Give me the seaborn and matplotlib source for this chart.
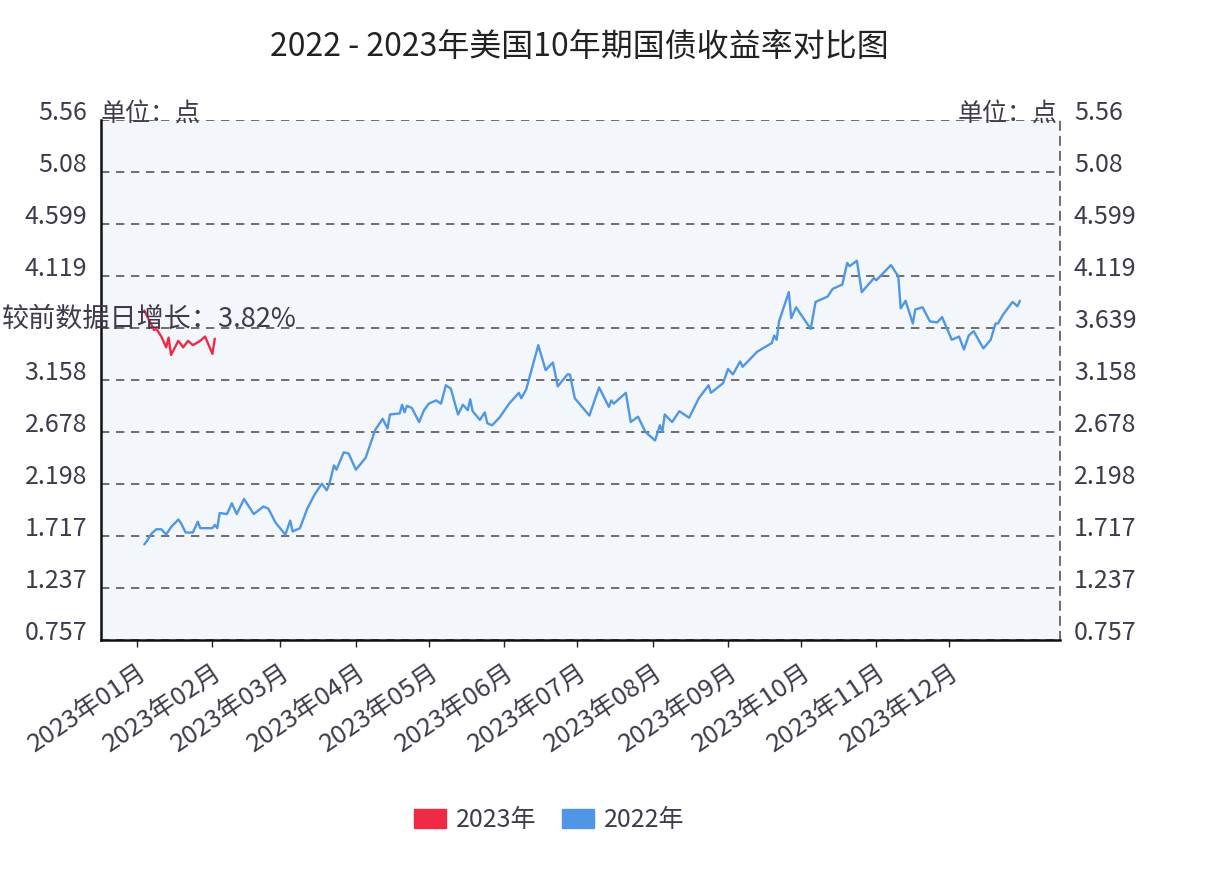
import matplotlib
matplotlib.use('Agg')
import matplotlib.pyplot as plt
import pandas as pd
import seaborn as sns
from matplotlib.patches import Patch

# day of year (0 = Jan 1) and yield
days_2022 = [3, 4, 6, 8, 10, 12, 14, 17, 18, 20,
             23, 25, 26, 31, 32, 33, 34, 37, 38, 39,
             41, 44, 48, 52, 54, 57, 61, 63, 64, 67,
             70, 73, 76, 78, 79, 81, 82, 85, 87, 90,
             94, 98, 101, 103, 104, 108, 109, 110, 111, 113,
             116, 118, 120, 123, 125, 127, 129, 132, 134, 136,
             137, 138, 141, 143, 144, 146, 149, 153, 157, 158,
             160, 165, 168, 171, 173, 177, 178, 180, 186, 190,
             194, 195, 196, 201, 203, 206, 209, 213, 215, 216,
             217, 220, 223, 227, 231, 235, 236, 241, 243, 245,
             248, 249, 255, 261, 262, 263, 264, 268, 269, 271,
             277, 279, 284, 286, 290, 292, 293, 296, 298, 303,
             304, 310, 312, 313, 314, 316, 319, 320, 323, 326,
             329, 331, 335, 338, 340, 342, 344, 348, 351, 353,
             354, 356, 360, 362, 363]
yield_2022 = [1.64, 1.67, 1.74, 1.78, 1.78, 1.73, 1.80, 1.87, 1.84, 1.75,
              1.75, 1.85, 1.79, 1.79, 1.82, 1.79, 1.93, 1.92, 1.97, 2.02,
              1.92, 2.06, 1.92, 1.99, 1.97, 1.84, 1.73, 1.86, 1.76, 1.79,
              1.97, 2.10, 2.20, 2.14, 2.19, 2.37, 2.33, 2.49, 2.48, 2.33,
              2.44, 2.70, 2.80, 2.71, 2.84, 2.85, 2.93, 2.86, 2.92, 2.90,
              2.77, 2.88, 2.94, 2.97, 2.94, 3.11, 3.08, 2.84, 2.93, 2.88,
              2.98, 2.87, 2.79, 2.86, 2.76, 2.74, 2.81, 2.94, 3.04, 2.99,
              3.07, 3.48, 3.25, 3.32, 3.10, 3.21, 3.21, 2.99, 2.83, 3.09,
              2.91, 2.97, 2.94, 3.04, 2.77, 2.82, 2.68, 2.60, 2.74, 2.68,
              2.84, 2.77, 2.87, 2.81, 2.99, 3.11, 3.04, 3.13, 3.26, 3.21,
              3.33, 3.28, 3.42, 3.50, 3.57, 3.53, 3.70, 3.97, 3.73, 3.83,
              3.63, 3.88, 3.93, 4.00, 4.04, 4.24, 4.21, 4.26, 3.97, 4.10,
              4.08, 4.22, 4.15, 4.12, 3.82, 3.89, 3.68, 3.81, 3.83, 3.70,
              3.69, 3.74, 3.53, 3.56, 3.44, 3.57, 3.61, 3.45, 3.53, 3.68,
              3.68, 3.76, 3.88, 3.84, 3.89]

days_2023 = [3, 5, 7, 8, 10, 12, 13, 14, 17, 19, 21, 23, 26, 28, 31, 32]
yield_2023 = [3.80, 3.71, 3.62, 3.63, 3.56, 3.46, 3.55, 3.39, 3.52, 3.46,
              3.52, 3.48, 3.52, 3.56, 3.40, 3.54]

month_starts = [0, 31, 59, 90, 120, 151, 181, 212, 243, 273, 304, 334]
month_labels = ['2023年%02d月' % m for m in range(1, 13)]
y_ticks = [0.757, 1.237, 1.717, 2.198, 2.678, 3.158, 3.639, 4.119, 4.599, 5.08, 5.56]
y_labels = ['0.757', '1.237', '1.717', '2.198', '2.678', '3.158', '3.639',
            '4.119', '4.599', '5.08', '5.56']
# on the left the 3.639 label sits under the annotation, so it is left blank there
y_labels_left = [l if l != '3.639' else '' for l in y_labels]

series_names = ['2023年', '2022年']
colors = {'2023年': '#ee2a44', '2022年': '#4f97e6'}

df = pd.concat([
    pd.DataFrame({'day': days_2022, 'yield': yield_2022, 'year': '2022年'}),
    pd.DataFrame({'day': days_2023, 'yield': yield_2023, 'year': '2023年'}),
])

sns.set_style('white')
plt.rcParams['font.family'] = ['Noto Sans CJK SC', 'DejaVu Sans']
txt = '#403a4c'

fig = plt.figure(figsize=(12.2, 8.72), dpi=100)
ax = fig.add_axes([101 / 1220, 1 - 640 / 872, 959 / 1220, 520 / 872])
ax.set_facecolor('#f3f7fc')

sns.lineplot(data=df, x='day', y='yield', hue='year', palette=colors,
             estimator=None, sort=False, linewidth=1.7, legend=False, ax=ax)

ax.set_xlim(-14.8, 379.5)
ax.set_ylim(0.757, 5.56)
ax.set_xlabel('')
ax.set_ylabel('')

ax.set_yticks(y_ticks)
ax.set_yticklabels(y_labels_left)
ax.grid(axis='y', color='#555555', linestyle=(0, (5, 4)), linewidth=1.2)
ax.grid(axis='x', visible=False)
ax.tick_params(axis='y', length=0, pad=10, labelsize=18, labelcolor=txt)

ax.set_xticks(month_starts)
ax.set_xticklabels(month_labels, rotation=34, ha='right', rotation_mode='anchor')
ax.tick_params(axis='x', length=5, width=1, color='#222222', pad=9,
               labelsize=18.5, labelcolor=txt, bottom=True)

for s in ['left', 'bottom']:
    ax.spines[s].set_color('#111111')
    ax.spines[s].set_linewidth(1.8)
ax.spines['top'].set_visible(False)
ax.spines['right'].set_color('#555555')
ax.spines['right'].set_linestyle((0, (5, 4)))
ax.spines['right'].set_linewidth(1.2)

ax2 = ax.twinx()
ax2.set_ylim(0.757, 5.56)
ax2.set_yticks(y_ticks)
ax2.set_yticklabels(y_labels)
ax2.tick_params(axis='y', length=0, pad=10, labelsize=18, labelcolor=txt)
for s in ax2.spines.values():
    s.set_visible(False)

for lbl in ax.get_yticklabels() + ax2.get_yticklabels():
    lbl.set_va('baseline')

fig.text(579 / 1220, 1 - 47 / 872, '2022 - 2023年美国10年期国债收益率对比图',
         ha='center', va='center', fontsize=23, color='#222222')

fig.text(101 / 1220, 1 - 121 / 872, '单位：点', ha='left', va='baseline',
         fontsize=18, color=txt)
fig.text(1058 / 1220, 1 - 121 / 872, '单位：点', ha='right', va='baseline',
         fontsize=18, color=txt)

fig.text(2 / 1220, 1 - 327 / 872, '较前数据日增长：3.82%', ha='left', va='baseline',
         fontsize=19.5, color=txt)

handles = [Patch(facecolor=colors[n], edgecolor=colors[n]) for n in series_names]
fig.legend(handles, series_names, loc='center', bbox_to_anchor=(549 / 1220, 1 - 820 / 872),
           ncol=2, frameon=False, fontsize=18, labelcolor=txt,
           handlelength=1.3, handleheight=0.8, columnspacing=1.0, handletextpad=0.4)

fig.savefig('out.png', dpi=100, facecolor='white')
